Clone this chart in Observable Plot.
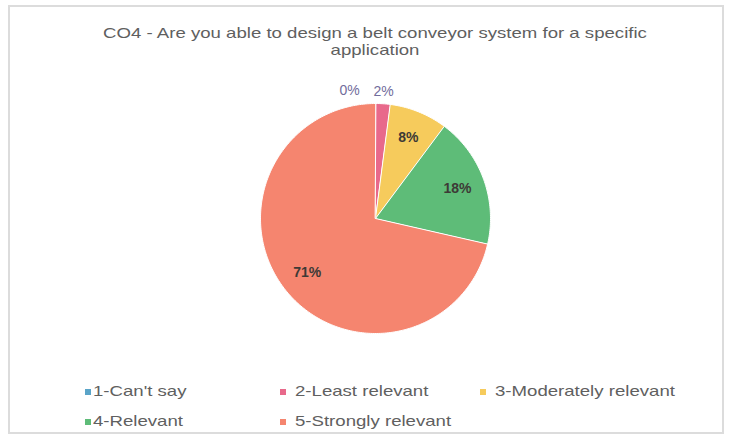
<!DOCTYPE html>
<html><head><meta charset="utf-8">
<script src="https://cdn.jsdelivr.net/npm/d3@7"></script>
<script src="https://cdn.jsdelivr.net/npm/@observablehq/plot@0.6"></script>
<style>
body{margin:0;background:#fff;}
#wrap{position:relative;width:739px;height:443px;overflow:hidden;font-family:"Liberation Sans",Arial,sans-serif;background:#fff;}
#frame{position:absolute;left:8px;top:5px;width:712px;height:425px;border:2px solid #dcdcdc;}
#title{position:absolute;left:0;width:750px;top:24px;text-align:center;font-size:15px;line-height:17px;color:#5f5f5f;transform:scaleX(1.24);transform-origin:375px 0;}
#chart{position:absolute;left:0;top:70px;}
.leg{position:absolute;font-size:15px;color:#606060;white-space:nowrap;line-height:16px;transform:scaleX(1.24);transform-origin:0 0;}
.mk{position:absolute;width:6px;height:6px;}
</style></head>
<body>
<div id="wrap">
  <div id="frame"></div>
  <div id="title">CO4 - Are you able to design a belt conveyor system for a specific<br>application</div>
  <div id="chart"></div>
</div>
<script>
const categories = ["1-Can't say", "2-Least relevant", "3-Moderately relevant", "4-Relevant", "5-Strongly relevant"];
const counts = [0, 1, 4, 9, 35];
const percentLabels = ["0%", "2%", "8%", "18%", "71%"];
const colors = ["#5aa4c8", "#e8698b", "#f6cb5c", "#5ebc78", "#f5856f"];

const total = d3.sum(counts);
// slice polygons built from the values
const pie = d3.pie().sort(null).value(d => d)(counts);
const pts = [];
pie.forEach((p, i) => {
  if (p.endAngle - p.startAngle <= 0) return;
  pts.push({cat: categories[i], x: 0, y: 0});
  const steps = Math.max(2, Math.ceil((p.endAngle - p.startAngle) / (Math.PI / 180)));
  for (let k = 0; k <= steps; k++) {
    const a = p.startAngle + (p.endAngle - p.startAngle) * k / steps;
    pts.push({cat: categories[i], x: Math.sin(a), y: Math.cos(a)});
  }
});
const labels = pie.map((p, i) => {
  const mid = (p.startAngle + p.endAngle) / 2;
  const inside = counts[i] / total > 0.05;
  const r = inside ? 0.76 : 1.11;
  return {cat: categories[i], label: percentLabels[i], inside, x: r * Math.sin(mid), y: r * Math.cos(mid)};
});

const R = 115, W = 739, H = 290, cx = 375, cy = 148;
const chart = Plot.plot({
  width: W, height: H,
  margin: 0,
  x: {domain: [-cx / R, (W - cx) / R], axis: null},
  y: {domain: [-(H - cy) / R, cy / R], axis: null},
  color: {domain: categories, range: colors},
  style: {background: "transparent", fontFamily: "'Liberation Sans', Arial, sans-serif"},
  marks: [
    Plot.line(pts, {x: "x", y: "y", z: "cat", fill: "cat", stroke: "white", strokeWidth: 1, curve: "linear-closed"}),
    Plot.text(labels.filter(d => d.inside), {x: "x", y: "y", text: "label", fontSize: 14, fontWeight: "bold", fill: "#3d3a36"}),
    Plot.text(labels.filter(d => !d.inside && d.label !== "0%"), {x: "x", y: "y", text: "label", fontSize: 14, fill: "#726c9c"}),
    Plot.text(labels.filter(d => d.label === "0%"), {x: "x", y: "y", dx: -26, text: "label", fontSize: 14, fill: "#726c9c"})
  ]
});
document.getElementById("chart").appendChild(chart);

// legend
const markerPos = [[85, 389], [280, 389], [480, 389], [85, 419], [280, 419]];
const textPos = [[93, 383], [295, 383], [495, 383], [93, 413], [295, 413]];
const wrap = document.getElementById("wrap");
categories.forEach((c, i) => {
  const m = document.createElement("div");
  m.className = "mk";
  m.style.left = markerPos[i][0] + "px";
  m.style.top = markerPos[i][1] + "px";
  m.style.background = colors[i];
  wrap.appendChild(m);
  const d = document.createElement("div");
  d.className = "leg";
  d.style.left = textPos[i][0] + "px";
  d.style.top = textPos[i][1] + "px";
  d.textContent = c;
  wrap.appendChild(d);
});
</script>
</body></html>
